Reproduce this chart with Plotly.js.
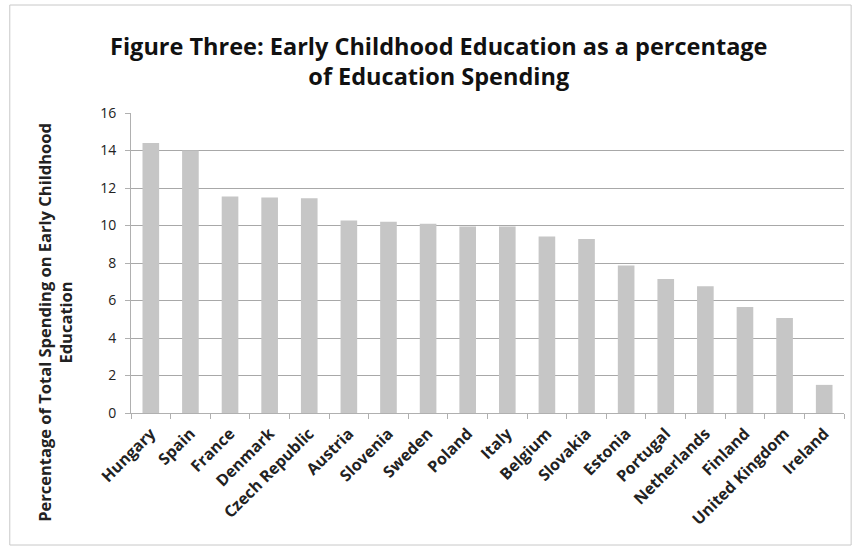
<!DOCTYPE html>
<html>
<head>
<meta charset="utf-8">
<script src="https://cdn.plot.ly/plotly-3.0.1.min.js"></script>
<style>html,body{margin:0;padding:0;background:#fff;}#chart{width:857px;height:549px;}</style>
</head>
<body>
<div id="chart"></div>
<script>
const countries = ["Hungary","Spain","France","Denmark","Czech Republic","Austria","Slovenia","Sweden","Poland","Italy","Belgium","Slovakia","Estonia","Portugal","Netherlands","Finland","United Kingdom","Ireland"];
const spendingShare = [14.4,14.0,11.55,11.5,11.45,10.27,10.2,10.1,9.95,9.95,9.42,9.28,7.87,7.15,6.76,5.65,5.07,1.5];
const yTicks = [0,2,4,6,8,10,12,14,16];

const FONT = "'Open Sans', Lato, sans-serif";

const data = [{
  type: "bar",
  x: countries,
  y: spendingShare,
  marker: {color: "#c6c6c6", line: {width: 0}},
  hoverinfo: "x+y"
}];

const layout = {
  width: 857, height: 549,
  margin: {l: 131, r: 13, t: 113, b: 136},
  paper_bgcolor: "#ffffff",
  plot_bgcolor: "#ffffff",
  showlegend: false,
  bargap: 0.58,
  title: {
    text: "<b>Figure Three: Early Childhood Education as a percentage<br>of Education Spending</b>",
    font: {family: FONT, size: 23.5, color: "#111111"},
    x: 0.512, xanchor: "center",
    y: 0.9, yanchor: "middle"
  },
  xaxis: {
    type: "category",
    tickangle: -45,
    tickfont: {family: FONT, size: 16, color: "#222222", weight: "bold"},
    showgrid: false,
    showline: true, linecolor: "#b0b0b0", linewidth: 1,
    ticks: "outside", ticklen: 5, tickcolor: "#b0b0b0",
    tickson: "boundaries",
    ticklabelstandoff: 4,
    fixedrange: true
  },
  yaxis: {
    range: [0, 16],
    tickvals: yTicks,
    ticktext: yTicks.map(String),
    tickfont: {family: FONT, size: 14, color: "#222222"},
    showgrid: true, gridcolor: "#a8a8a8", gridwidth: 1,
    zeroline: false,
    showline: true, linecolor: "#b0b0b0", linewidth: 1,
    ticks: "outside", ticklen: 5, tickcolor: "#b0b0b0",
    ticklabelstandoff: 6,
    fixedrange: true
  },
  annotations: [{
    text: "<b>Percentage of Total Spending on Early Childhood<br>Education</b>",
    xref: "paper", yref: "paper",
    x: -0.107, y: 0.303,
    xanchor: "center", yanchor: "middle",
    textangle: -90,
    showarrow: false,
    font: {family: FONT, size: 16.5, color: "#222222"}
  }],
  shapes: [{
    type: "rect", xref: "paper", yref: "paper",
    x0: -0.17, x1: 1.01, y0: -0.44, y1: 1.36,
    line: {color: "#c8c8c8", width: 1}
  }]
};

Plotly.newPlot("chart", data, layout, {displayModeBar: false, staticPlot: true});
</script>
</body>
</html>
